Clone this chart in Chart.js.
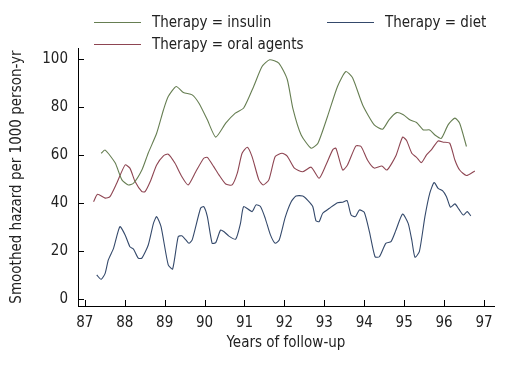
<!DOCTYPE html>
<html>
<head>
<meta charset="utf-8">
<script src="https://cdn.jsdelivr.net/npm/chart.js@4.4.1/dist/chart.umd.min.js"></script>
<style>
  html, body { margin: 0; padding: 0; background: #fff; }
  #wrap { position: relative; width: 516px; height: 369px; }
</style>
</head>
<body>
<div id="wrap"><canvas id="chart" width="516" height="369"></canvas></div>
<script>
// values
const insulinYears = [87.41, 87.51, 87.76, 87.93, 88.09, 88.22, 88.43, 88.59, 88.8, 88.97, 89.09, 89.29, 89.47, 89.69, 89.86, 90.07, 90.28, 90.53, 90.77, 90.98, 91.23, 91.44, 91.63, 91.86, 92.07, 92.21, 92.42, 92.67, 92.84, 93.08, 93.33, 93.54, 93.71, 93.96, 94.25, 94.46, 94.62, 94.81, 94.98, 95.14, 95.31, 95.48, 95.64, 95.77, 95.93, 96.1, 96.27, 96.39, 96.56];
const insulinHazard = [60.7, 62, 56.7, 49.6, 47.5, 48.2, 53.7, 60.8, 69, 78.7, 84.3, 88.5, 86, 85, 81.5, 74.6, 67.4, 73.2, 77.4, 79.5, 88.5, 96.8, 99.6, 98.2, 91.5, 79.5, 68.3, 62.8, 64.9, 76, 88.5, 94.7, 92, 80.8, 72.5, 70.7, 74.6, 77.6, 76.7, 74.6, 73.5, 70.4, 70.4, 68.3, 66.9, 72.5, 75.3, 73.2, 63.5];

const oralYears = [87.22, 87.32, 87.51, 87.63, 87.8, 88.01, 88.13, 88.26, 88.43, 88.51, 88.64, 88.8, 88.97, 89.09, 89.26, 89.43, 89.59, 89.78, 89.98, 90.07, 90.23, 90.36, 90.53, 90.69, 90.82, 90.94, 91.07, 91.19, 91.36, 91.47, 91.61, 91.77, 91.94, 92.07, 92.25, 92.46, 92.67, 92.87, 93.04, 93.21, 93.29, 93.46, 93.58, 93.79, 93.92, 94.08, 94.25, 94.44, 94.57, 94.79, 94.96, 95.06, 95.19, 95.31, 95.43, 95.56, 95.68, 95.85, 95.98, 96.14, 96.27, 96.39, 96.56, 96.77];
const oralHazard = [40.5, 43.6, 42, 42.6, 48.2, 55.8, 54.5, 48.9, 44.7, 44.7, 48.9, 55.8, 59.6, 60.3, 56.5, 51, 47.5, 53, 58.6, 59, 55.1, 51.7, 47.9, 47.5, 52.4, 60.7, 63.2, 59.3, 49.6, 47.5, 49.6, 59.3, 60.7, 59.5, 54.5, 53, 54.9, 50.3, 55.8, 62.1, 62.8, 53.7, 55.8, 63.7, 63.5, 57.9, 54.5, 55.4, 53.7, 59.5, 67.4, 66, 60.7, 59, 56.8, 60, 62.1, 65.8, 65.3, 64.9, 57.9, 53.7, 51.4, 53.3];

const dietYears = [87.3, 87.41, 87.51, 87.59, 87.72, 87.88, 88.01, 88.13, 88.22, 88.34, 88.43, 88.59, 88.72, 88.8, 88.91, 89.09, 89.2, 89.34, 89.43, 89.53, 89.61, 89.69, 89.9, 89.98, 90.07, 90.19, 90.28, 90.4, 90.49, 90.61, 90.78, 90.9, 90.98, 91.19, 91.29, 91.4, 91.52, 91.65, 91.77, 91.87, 92.02, 92.17, 92.29, 92.46, 92.58, 92.71, 92.79, 92.87, 92.96, 93.13, 93.33, 93.46, 93.57, 93.67, 93.78, 93.88, 94, 94.13, 94.27, 94.38, 94.54, 94.67, 94.79, 94.96, 95.1, 95.19, 95.27, 95.38, 95.52, 95.64, 95.75, 95.85, 95.96, 96.06, 96.16, 96.27, 96.37, 96.48, 96.58, 96.67];
const dietHazard = [10, 8.2, 10.7, 16.3, 21.1, 30.1, 26.7, 21.8, 20.8, 17, 17, 22.5, 31.5, 34.3, 30.1, 14.2, 12.5, 26, 26.3, 24.6, 23.2, 24.6, 37.8, 38.5, 34.3, 23.2, 23.5, 28.7, 28, 26.2, 24.9, 31.5, 38.5, 36.4, 39.2, 38.5, 33.6, 26.7, 23.2, 24.6, 34, 40.5, 42.9, 42.9, 41.2, 38.5, 32.6, 32.2, 35.7, 37.8, 40.1, 40.3, 41, 35, 34.3, 37.1, 36.1, 28, 17.6, 17.6, 23.2, 23.9, 28.5, 35.4, 31.5, 24.6, 17.4, 19.7, 34.3, 44, 48.5, 46.1, 45.1, 42.6, 38.2, 39.6, 37.4, 35, 36.4, 34.6];

const xTicks = [87, 88, 89, 90, 91, 92, 93, 94, 95, 96, 97];
const yTicks = [0, 20, 40, 60, 80, 100];

const seriesLabels = ['Therapy = insulin', 'Therapy = diet', 'Therapy = oral agents'];
const seriesColors = ['#667e52', '#34496b', '#8e4552'];

const FONT = "Tahoma, 'DejaVu Sans Condensed', 'Liberation Sans', sans-serif";
const TEXT = '#222';

function toPoints(xs, ys) {
    return xs.map((x, i) => ({ x, y: ys[i] }));
}

// inward tick marks plus the custom two-column legend
const decorPlugin = {
    id: 'decor',
    afterDraw(chart) {
        const ctx = chart.ctx;
        const xs = chart.scales.x, ys = chart.scales.y;
        const a = chart.chartArea;
        ctx.save();
        ctx.strokeStyle = '#000';
        ctx.lineWidth = 1;
        ctx.beginPath();
        xTicks.forEach(t => {
            const px = Math.round(xs.getPixelForValue(t)) + 0.5;
            ctx.moveTo(px, a.bottom);
            ctx.lineTo(px, a.bottom - 6);
        });
        yTicks.forEach(t => {
            const py = Math.round(ys.getPixelForValue(t)) + 0.5;
            ctx.moveTo(a.left, py);
            ctx.lineTo(a.left + 6, py);
        });
        ctx.stroke();

        const items = [
            { x: 94, y: 22, i: 0 },
            { x: 327, y: 22, i: 1 },
            { x: 94, y: 44, i: 2 }
        ];
        ctx.font = '15px ' + FONT;
        ctx.textBaseline = 'middle';
        ctx.fillStyle = TEXT;
        items.forEach(it => {
            ctx.strokeStyle = seriesColors[it.i];
            ctx.beginPath();
            ctx.moveTo(it.x, it.y + 0.5);
            ctx.lineTo(it.x + 47, it.y + 0.5);
            ctx.stroke();
            ctx.fillText(seriesLabels[it.i], it.x + 58, it.y + 1);
        });
        ctx.restore();
    }
};

new Chart(document.getElementById('chart'), {
    type: 'line',
    data: {
        datasets: [
            { label: seriesLabels[0], data: toPoints(insulinYears, insulinHazard), borderColor: seriesColors[0] },
            { label: seriesLabels[1], data: toPoints(dietYears, dietHazard), borderColor: seriesColors[1] },
            { label: seriesLabels[2], data: toPoints(oralYears, oralHazard), borderColor: seriesColors[2] }
        ]
    },
    options: {
        responsive: false,
        animation: false,
        layout: { padding: { top: 48, right: 22, left: 0, bottom: 0 } },
        elements: {
            line: { borderWidth: 1.1, tension: 0.2, fill: false },
            point: { radius: 0 }
        },
        plugins: {
            legend: { display: false },
            tooltip: { enabled: false }
        },
        scales: {
            x: {
                type: 'linear',
                min: 86.83,
                max: 97.25,
                afterBuildTicks: s => { s.ticks = xTicks.map(v => ({ value: v })); },
                afterFit: s => { s.height = 63; },
                grid: { display: false, drawTicks: false },
                border: { color: '#000', width: 1 },
                ticks: { color: TEXT, font: { family: FONT, size: 15 }, padding: 8 },
                title: { display: true, text: 'Years of follow-up', color: TEXT, font: { family: FONT, size: 15 }, padding: { top: 0, bottom: 17 } }
            },
            y: {
                min: -2.9,
                max: 104.5,
                afterBuildTicks: s => { s.ticks = yTicks.map(v => ({ value: v })); },
                afterFit: s => { s.width = 78; },
                grid: { display: false, drawTicks: false },
                border: { color: '#000', width: 1 },
                ticks: { color: TEXT, font: { family: FONT, size: 15 }, padding: 10 },
                title: { display: true, text: 'Smoothed hazard per 1000 person-yr', color: TEXT, font: { family: FONT, size: 15 }, padding: { top: 8, bottom: 0 } }
            }
        }
    },
    plugins: [decorPlugin]
});
</script>
</body>
</html>
